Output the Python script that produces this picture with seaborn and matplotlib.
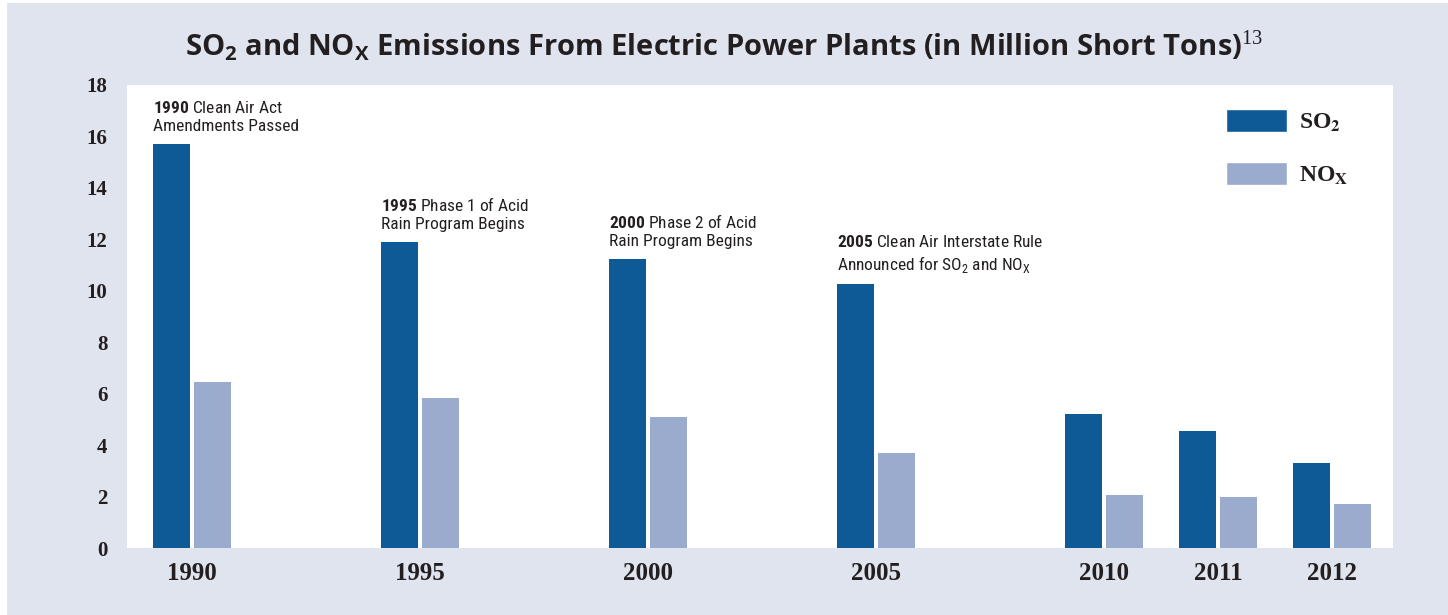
import numpy as np
import pandas as pd
import matplotlib
matplotlib.use('Agg')
import matplotlib.pyplot as plt
import matplotlib.font_manager as fm
from matplotlib.patches import Patch, Rectangle
import seaborn as sns

# data (million short tons)
years = [1990, 1995, 2000, 2005, 2010, 2011, 2012]
so2 = [15.7, 11.9, 11.25, 10.25, 5.2, 4.55, 3.3]
nox = [6.45, 5.85, 5.1, 3.7, 2.05, 2.0, 1.7]
yticks = list(range(0, 19, 2))

# milestones written above the SO2 bars
event_years = [1990, 1995, 2000, 2005]
event_lines = [
    ["Clean Air Act", "Amendments Passed"],
    ["Phase 1 of Acid", "Rain Program Begins"],
    ["Phase 2 of Acid", "Rain Program Begins"],
    ["Clean Air Interstate Rule", r"Announced for SO$_\mathrm{2}$ and NO$_\mathrm{X}$"],
]

# layout: 5-year steps take two slots, single years one slot
slots = [0, 2, 4, 6, 8, 9, 10]
bar_total = 0.72
bar_gap = 0.1

c_so2 = '#0e5a96'
c_nox = '#9babcd'
bg = '#e0e4ef'
ink = '#231f20'

sns.set_theme(style='white')

available = {f.name for f in fm.fontManager.ttflist}
bold_families = {f.name for f in fm.fontManager.ttflist
                 if (f.weight if isinstance(f.weight, int) else 700 if 'bold' in str(f.weight) else 400) >= 700}
narrow = next(f for f in ['Liberation Sans Narrow', 'Roboto Condensed', 'Open Sans Condensed', 'Noto Sans']
              if f in available)
title_font = next((f for f in ['Open Sans', 'Noto Sans', 'Lato', 'Roboto'] if f in bold_families), 'DejaVu Sans')
serif = 'Liberation Serif'

plt.rcParams['font.family'] = [narrow, 'DejaVu Sans']
plt.rcParams['mathtext.fontset'] = 'custom'
plt.rcParams['mathtext.rm'] = narrow
plt.rcParams['mathtext.sf'] = narrow + ':bold'
plt.rcParams['mathtext.bf'] = title_font + ':bold'
plt.rcParams['mathtext.tt'] = serif

df = pd.DataFrame({
    'slot': slots * 2,
    'pollutant': ['SO2'] * len(years) + ['NOx'] * len(years),
    'value': so2 + nox,
})

fig = plt.figure(figsize=(14.48, 6.15), dpi=100)
fig.patch.set_facecolor('white')
fig.patches.append(Rectangle((7 / 1448, 0), 1, 1 - 3 / 615, transform=fig.transFigure,
                             facecolor=bg, edgecolor='none', zorder=-1))
ax = fig.add_axes([127 / 1448, 67 / 615, 1266 / 1448, 463 / 615])
ax.set_facecolor('white')

sns.barplot(data=df, x='slot', y='value', hue='pollutant', native_scale=True,
            palette=[c_so2, c_nox], width=bar_total, gap=bar_gap, dodge=True,
            saturation=1, errorbar=None, legend=False, linewidth=0, ax=ax)

ax.set_xlim(-0.57, 10.535)
ax.set_ylim(0, 18)
ax.set_yticks(yticks)
ax.set_yticklabels([str(t) for t in yticks], fontfamily=serif, fontweight='bold',
                   fontsize=15, color=ink)
ax.set_xticks(slots)
ax.set_xticklabels([str(y) for y in years], fontfamily=serif, fontweight='bold',
                   fontsize=18, color=ink)
ax.tick_params(axis='y', length=0, pad=14)
ax.tick_params(axis='x', length=0, pad=10)
ax.set_xlabel('')
ax.set_ylabel('')
for s in ax.spines.values():
    s.set_visible(False)

# milestone notes, left edge on the SO2 bar
bar_w = bar_total / 2 * (1 - bar_gap)
for yr, lines in zip(event_years, event_lines):
    i = years.index(yr)
    x_left = slots[i] - bar_total / 4 - bar_w / 2
    txt = r'$\mathsf{' + str(yr) + '}$ ' + lines[0] + '\n' + lines[1]
    ax.annotate(txt, xy=(x_left, so2[i]), xytext=(0, 7), textcoords='offset points',
                ha='left', va='bottom', fontsize=12.5, color=ink, linespacing=1.25)

handles = [Patch(facecolor=c_so2, label=r'SO$_\mathbf{2}$'),
           Patch(facecolor=c_nox, label=r'NO$_\mathbf{X}$')]
ax.legend(handles=handles, loc='upper left', bbox_to_anchor=(0.868, 0.948), frameon=False,
          prop=fm.FontProperties(family=serif, weight='bold', size=17, math_fontfamily='stix'),
          handlelength=2.6, handleheight=1.1, labelspacing=1.2, handletextpad=0.5,
          borderpad=0, borderaxespad=0, labelcolor=ink)

fig.text(0.5, 0.925,
         r'SO$_\mathbf{2}$ and NO$_\mathbf{X}$ Emissions From Electric Power Plants (in Million Short Tons)$^\mathtt{13}$',
         ha='center', va='center', fontfamily=title_font, fontweight='bold', fontsize=21, color=ink)

fig.savefig('out.png', dpi=100, facecolor=fig.get_facecolor())
